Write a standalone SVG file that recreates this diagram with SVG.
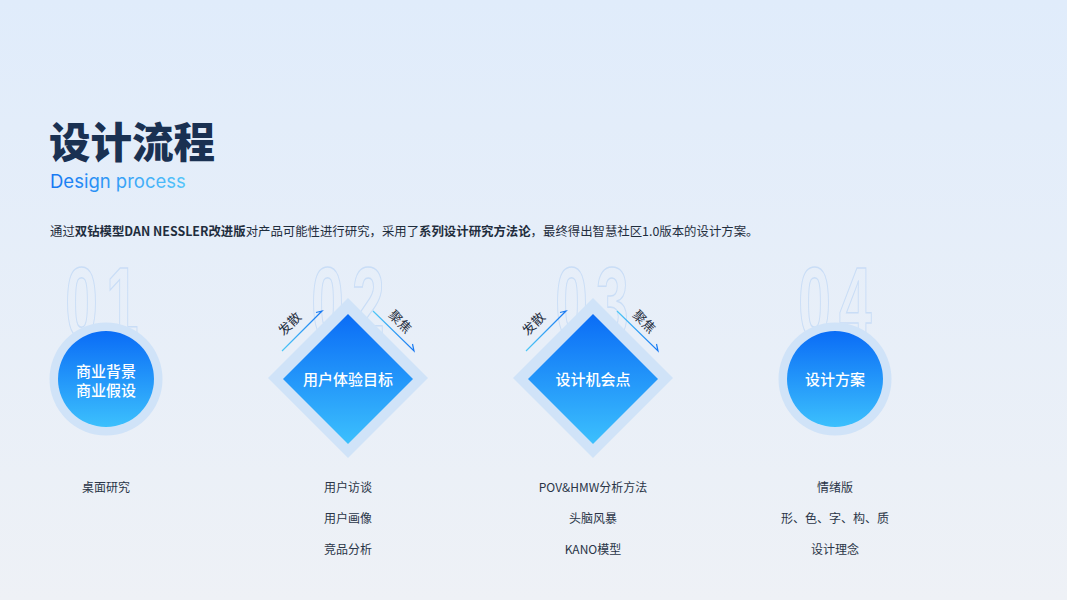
<svg xmlns="http://www.w3.org/2000/svg" width="1067" height="600" viewBox="0 0 1067 600">
<defs>
<linearGradient id="bg" x1="0" y1="0" x2="0" y2="1">
<stop offset="0" stop-color="#e0ecfb"/>
<stop offset="1" stop-color="#eef1f6"/>
</linearGradient>
<linearGradient id="fill" x1="0" y1="0" x2="0" y2="1">
<stop offset="0" stop-color="#0a6cf6"/>
<stop offset="1" stop-color="#3cc0fd"/>
</linearGradient>
<linearGradient id="en" x1="50" y1="0" x2="190" y2="0" gradientUnits="userSpaceOnUse">
<stop offset="0" stop-color="#1677f2"/>
<stop offset="1" stop-color="#56c8fa"/>
</linearGradient>
<linearGradient id="dotg" x1="0" y1="0" x2="1" y2="0">
<stop offset="0" stop-color="#4ec8f6"/>
<stop offset="1" stop-color="#1677f2"/>
</linearGradient>
<linearGradient id="arr" x1="0" y1="1" x2="1" y2="0">
<stop offset="0" stop-color="#4ec8f6"/>
<stop offset="1" stop-color="#1677f2"/>
</linearGradient>
<linearGradient id="arr2" x1="0" y1="0" x2="1" y2="1">
<stop offset="0" stop-color="#4ec8f6"/>
<stop offset="1" stop-color="#1677f2"/>
</linearGradient>
</defs>
<style>
.cjk{font-family:"Noto Sans CJK SC","Noto Sans",sans-serif}
.num{font-family:"Liberation Sans",sans-serif;font-weight:bold;font-size:101px;fill:none;stroke:#c9ddf6;stroke-width:1.5;text-anchor:middle;letter-spacing:14px}
.ring{fill:#d0e3f8}
.core{fill:url(#fill)}
.nt{font-family:"Noto Sans CJK SC","Noto Sans",sans-serif;font-size:15px;font-weight:500;fill:#fff;text-anchor:middle}
.lb{font-family:"Noto Sans CJK SC","Noto Sans",sans-serif;font-size:12px;fill:#2a3547;text-anchor:middle}
.dot{fill:none;stroke:url(#dotg);stroke-width:2;stroke-dasharray:3 2}
.tag{font-family:"Noto Sans CJK SC","Noto Sans",sans-serif;font-size:13px;fill:#1f2d3d;text-anchor:middle}
.a1{fill:none;stroke:url(#arr);stroke-width:1.2}
.a2{fill:none;stroke:url(#arr2);stroke-width:1.2}
</style>
<rect width="1067" height="600" fill="url(#bg)"/>
<g id="header">
<text x="49" y="158" class="cjk" font-size="41.5" font-weight="900" fill="#1a3152">设计流程</text>
<text x="50" y="188" font-family="Inter,'Noto Sans',sans-serif" font-size="18.5" fill="url(#en)">Design process</text>
<text x="50" y="236" class="cjk" font-size="12.4" fill="#1f2d3d">通过<tspan font-weight="bold">双钻模型DAN NESSLER改进版</tspan>对产品可能性进行研究，采用了<tspan font-weight="bold">系列设计研究方法论</tspan>，最终得出智慧社区1.0版本的设计方案。</text>
</g>
<g id="numbers">
<text class="num" transform="translate(106,337) scale(0.58,1)">01</text>
<text class="num" transform="translate(352,337) scale(0.58,1)">02</text>
<text class="num" transform="translate(596,337) scale(0.58,1)">03</text>
<text class="num" transform="translate(839,337) scale(0.58,1)">04</text>
</g>
<g id="connectors">
<line class="dot" x1="165" y1="379" x2="264" y2="379"/>
<line class="dot" x1="428" y1="379" x2="512" y2="379"/>
<line class="dot" x1="677" y1="379" x2="776" y2="379"/>
<path class="a1" d="M282 351 L322 311 L316 312.5"/>
<path class="a2" d="M373 311 L414 351 L412.5 344"/>
<path class="a1" d="M526 351 L566 311 L560 312.5"/>
<path class="a2" d="M617 311 L658 351 L656.5 344"/>
<text class="tag" transform="translate(293,327) rotate(-45)">发散</text>
<text class="tag" transform="translate(397,325) rotate(45)">聚焦</text>
<text class="tag" transform="translate(537,327) rotate(-45)">发散</text>
<text class="tag" transform="translate(641,325) rotate(45)">聚焦</text>
</g>
<g id="node1">
<circle class="ring" cx="106" cy="379" r="56.5"/>
<circle class="core" cx="106" cy="379" r="48"/>
<text class="nt"><tspan x="106" y="377">商业背景</tspan><tspan x="106" y="396">商业假设</tspan></text>
</g>
<g id="node2">
<path class="ring" d="M348 298 L428 378 L348 458 L268 378 Z"/>
<path class="core" d="M348 314 L413 379 L348 444 L283 379 Z"/>
<text class="nt" x="348" y="385">用户体验目标</text>
</g>
<g id="node3">
<path class="ring" d="M593 298 L673 378 L593 458 L513 378 Z"/>
<path class="core" d="M593 314 L658 379 L593 444 L528 379 Z"/>
<text class="nt" x="593" y="385">设计机会点</text>
</g>
<g id="node4">
<circle class="ring" cx="835" cy="379" r="56.5"/>
<circle class="core" cx="835" cy="379" r="48"/>
<text class="nt" x="835" y="385">设计方案</text>
</g>
<g id="labels">
<text class="lb" x="106" y="492">桌面研究</text>
<text class="lb" x="348" y="492">用户访谈</text>
<text class="lb" x="348" y="523">用户画像</text>
<text class="lb" x="348" y="554">竞品分析</text>
<text class="lb" x="593" y="492">POV&amp;HMW分析方法</text>
<text class="lb" x="593" y="523">头脑风暴</text>
<text class="lb" x="593" y="554">KANO模型</text>
<text class="lb" x="835" y="492">情绪版</text>
<text class="lb" x="835" y="523">形、色、字、构、质</text>
<text class="lb" x="835" y="554">设计理念</text>
</g>
</svg>
